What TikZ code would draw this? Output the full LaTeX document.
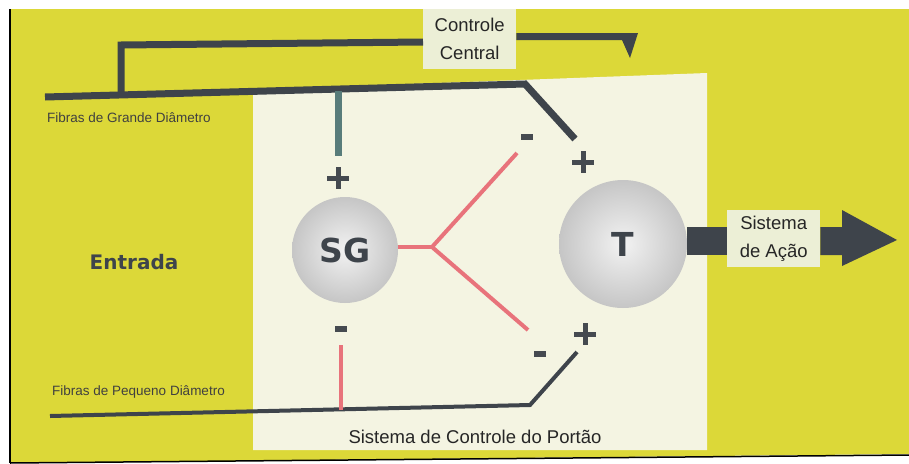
\documentclass[tikz,border=0pt]{standalone}
\usepackage{fontspec}
\setmainfont{Liberation Sans}
\newfontfamily\heavyfont{DejaVu Sans}
\definecolor{bgyellow}{HTML}{DCD838}
\definecolor{panelbg}{HTML}{F4F4E2}
\definecolor{boxbg}{HTML}{ECEFD6}
\definecolor{darkline}{HTML}{3E444B}
\definecolor{tealline}{HTML}{587C7A}
\definecolor{redline}{HTML}{E8737B}
\definecolor{signcol}{HTML}{454A50}
\tikzset{
  fiber/.style={draw=darkline, line width=7pt},
  thinfiber/.style={draw=darkline, line width=4pt},
  inhib/.style={draw=redline, line width=4pt},
  sphere/.style={circle, inner sep=0pt, shading=radial, inner color=gray!10, outer color=gray!45, text=darkline},
  lbl/.style={inner sep=0pt, font=\fontsize{18.5}{26}\selectfont, text=black!85},
  smalllbl/.style={inner sep=0pt, font=\fontsize{13.5}{16}\selectfont, text=black!75, anchor=west},
  infobox/.style={fill=boxbg, inner sep=0pt, align=center, font=\fontsize{18.5}{28}\selectfont, text=black!85},
  plussign/.style={minimum size=22pt, inner sep=0pt,
    path picture={
      \fill[signcol] ([yshift=-2.5pt]path picture bounding box.west) rectangle ([yshift=2.5pt]path picture bounding box.east);
      \fill[signcol] ([xshift=-2.5pt]path picture bounding box.south) rectangle ([xshift=2.5pt]path picture bounding box.north);}},
  minussign/.style={fill=signcol, minimum width=12pt, minimum height=6pt, inner sep=0pt}
}
\begin{document}
\begin{tikzpicture}[x=1pt,y=-1pt]
\useasboundingbox (0,0) rectangle (909,463);
\fill[white] (0,0) rectangle (909,463);
% yellow background
\fill[bgyellow] (10,9) -- (909,9) -- (909,454) -- (10,463) -- cycle;
\draw[black, line width=1.5pt] (10,9) -- (10,463);
\draw[black, line width=1.5pt] (10,463) -- (909,455);
% light panel
\fill[panelbg] (253,90) -- (707,73) -- (707,450) -- (253,450) -- cycle;

% boxes
\node[infobox, minimum width=93pt, minimum height=60pt, anchor=north west] (cc) at (423,9) {Controle\\Central};
\node[infobox, minimum width=93pt, minimum height=57pt, anchor=north west] (sa) at (727,210) {Sistema\\de Ação};

% spheres
\node[sphere, minimum size=106pt] (SG) at (345,250) {\heavyfont\bfseries\fontsize{33}{33}\selectfont SG};
\node[sphere, minimum size=128pt] (T) at (623,244) {\heavyfont\bfseries\fontsize{33}{33}\selectfont T};

% coordinates
\coordinate (gl) at (45,97);
\coordinate (gj) at (121,95);
\coordinate (gt) at (338,91);
\coordinate (gk) at (525,84);
\coordinate (ge) at (575,139);
\coordinate (ctop) at (121,45);
\coordinate (ccL) at (423,42);
\coordinate (tealend) at (338,156);
\coordinate (pl) at (50,416);
\coordinate (pr) at (341,410);
\coordinate (pk) at (530,405);
\coordinate (pe) at (577,352);
\coordinate (junc) at (432,247);
\coordinate (rup) at (517,153);
\coordinate (rdn) at (528,330);
\coordinate (redtop) at (341,345);

% large diameter fibers
\draw[fiber, line join=miter] (gl) -- (gk) -- (ge);
\draw[fiber, line join=miter] (gj) -- (ctop) -- (ccL);
% central control arrow
\fill[darkline] (cc.east |- 0,33) -- (638,33) -- (630,58) -- (622,40) -- (cc.east |- 0,40) -- cycle;
% teal excitatory branch
\draw[draw=tealline, line width=7pt] (gt) -- (tealend);

% small diameter fibers
\draw[thinfiber, line join=miter] (pl) -- (pk) -- (pe);
\draw[inhib] (redtop) -- (pr);

% inhibitory Y from SG
\draw[inhib] (SG.east |- junc) -- (junc);
\draw[inhib] (junc) -- (rup);
\draw[inhib] (junc) -- (rdn);

% action output
\fill[darkline] (T.east |- 0,227) rectangle (sa.west |- 0,255);
\fill[darkline] (sa.east |- 0,227) -- (842,227) -- (842,210) -- (897,240) -- (842,266) -- (842,255) -- (sa.east |- 0,255) -- cycle;

% signs
\node[plussign] (p1) at (338,178) {};
\node[minussign] (m1) at (341,329) {};
\node[minussign] (m2) at (527,137) {};
\node[plussign] (p2) at (583,162) {};
\node[minussign] (m3) at (540,354) {};
\node[plussign] (p3) at (585,334) {};

% labels
\node[smalllbl] (lg) at (47,118) {Fibras de Grande Diâmetro};
\node[smalllbl] (lp) at (52,392) {Fibras de Pequeno Diâmetro};
\node[inner sep=0pt, text=darkline, font=\heavyfont\bfseries\fontsize{20}{20}\selectfont] (ent) at (134,262) {Entrada};
\node[lbl] (scp) at (475,437) {Sistema de Controle do Portão};
\end{tikzpicture}
\end{document}
